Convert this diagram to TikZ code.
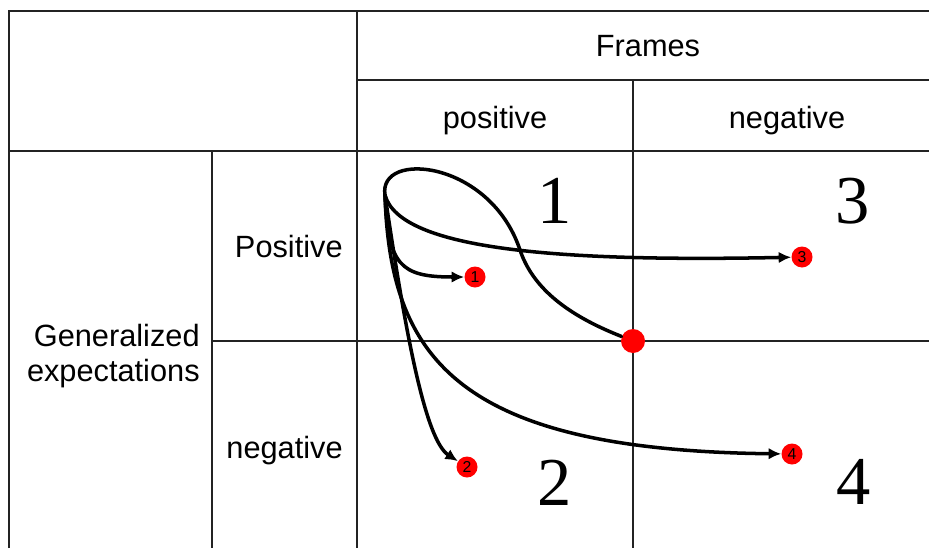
\documentclass[tikz,border=0pt]{standalone}
\usepackage{fontspec}
\setmainfont{Liberation Serif}
\setsansfont{Liberation Sans}
\definecolor{DotRed}{RGB}{255, 0, 0}
\definecolor{GridGray}{RGB}{35, 35, 35}
\usetikzlibrary{arrows.meta,positioning}
\tikzset{
  gridline/.style={draw=GridGray, line width=1.3pt},
  headtext/.style={font=\sffamily\fontsize{17.5}{20}\selectfont, inner sep=0pt},
  cellnum/.style={font=\rmfamily\fontsize{39}{40}\selectfont, inner sep=0pt},
  smalldot/.style={circle, fill=DotRed, minimum size=0.42cm, inner sep=0pt,
    font=\sffamily\fontsize{9}{9}\selectfont},
  hubdot/.style={circle, fill=DotRed, minimum size=0.48cm, inner sep=0pt},
  flowline/.style={line width=2pt, line cap=round},
  flow/.style={flowline, -{Latex[length=0.25cm, width=0.23cm]}},
}

\begin{document}
\begin{tikzpicture}[x=0.02cm, y=-0.02cm]
  \useasboundingbox (0,0) rectangle (929,548);

  % table rules
  \draw[gridline] (9,548) -- (9,11) -- (929,11);
  \draw[gridline] (357,11) -- (357,548);
  \draw[gridline] (357,80) -- (929,80);
  \draw[gridline] (9,151) -- (929,151);
  \draw[gridline] (212,151) -- (212,548);
  \draw[gridline] (633,80) -- (633,548);
  \draw[gridline] (212,341) -- (929,341);

  % headings
  \node[headtext] (frames) at (648,46) {Frames};
  \node[headtext] (fpos) at (495,121) {positive};
  \node[headtext] (fneg) at (787,121) {negative};
  \node[headtext, anchor=east, align=right] (genexp) at (200,356) {Generalized\\expectations};
  \node[headtext, anchor=east] (epos) at (343,247) {Positive};
  \node[headtext, anchor=east] (eneg) at (343,451) {negative};

  % quadrant numbers
  \foreach \num/\xpos/\ypos in {1/555/201, 2/555/483, 3/853/201, 4/854/482} {
    \node[cellnum] (cell\num) at (\xpos,\ypos) {\num};
  }

  % outcome dots
  \foreach \num/\xpos/\ypos in {1/475/277, 2/467/467, 3/802/257, 4/792/454} {
    \node[smalldot] (out\num) at (\xpos,\ypos) {\num};
  }
  \node[hubdot] (hub) at (633,341) {};
  \coordinate (src) at (385,195);

  % loop into the crossing
  \draw[flowline] (src) .. controls (378,150) and (490,160) .. (520,250)
    .. controls (535,295) and (580,320) .. (hub);
  % fan of arrows
  \draw[flow] (src) .. controls (388,265) and (400,277) .. (out1);
  \draw[flow] (src) .. controls (400,250) and (560,262) .. (out3);
  \draw[flow] (src) .. controls (405,330) and (425,440) .. (out2);
  \draw[flow] (src) .. controls (390,360) and (460,450) .. (out4);
\end{tikzpicture}
\end{document}
